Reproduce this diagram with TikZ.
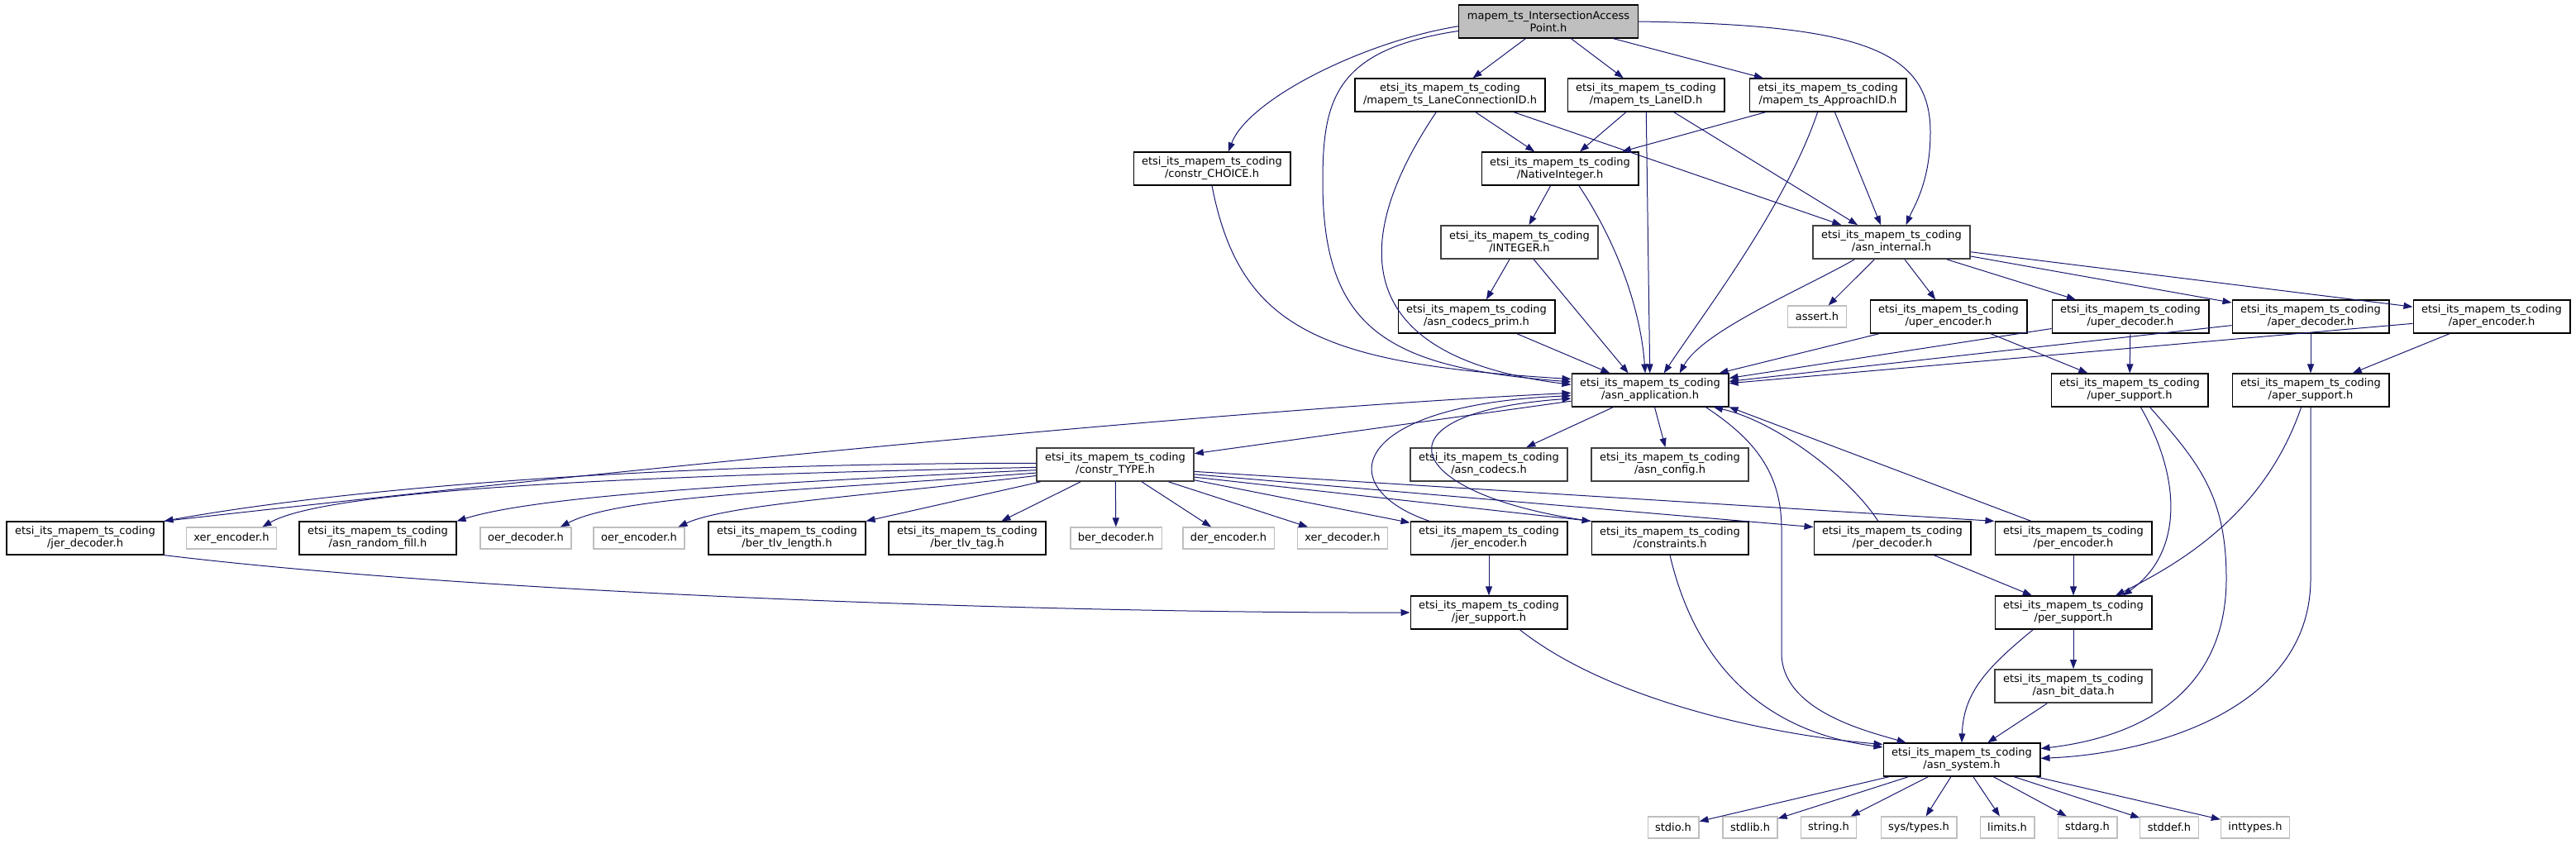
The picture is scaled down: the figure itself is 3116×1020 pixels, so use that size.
\documentclass[tikz,border=0pt]{standalone}
\usepackage{fontspec}
\setmainfont{DejaVu Sans}
\usetikzlibrary{arrows.meta}
\definecolor{edgeblue}{HTML}{191970}
\definecolor{rootfill}{HTML}{BFBFBF}
\definecolor{extgray}{HTML}{BFBFBF}
\definecolor{thickgray}{HTML}{404040}

\begin{document}
\begin{tikzpicture}[x=1pt,y=1pt,yscale=-1,
  filebox/.style={draw=black, line width=1.2pt, fill=white, align=center, inner xsep=10pt, inner ysep=1pt, minimum height=40pt, font=\fontsize{13}{15}\selectfont},
  rootbox/.style={filebox, fill=rootfill},
  leafbox/.style={filebox, draw=thickgray, line width=1.8pt},
  extbox/.style={draw=extgray, line width=1.2pt, fill=white, inner xsep=9pt, inner ysep=1pt, minimum height=26pt, font=\fontsize{13}{15}\selectfont},
  incl/.style={draw=edgeblue, line width=1pt, -{Triangle[length=11pt,width=8pt]}}]
\useasboundingbox (0,0) rectangle (3116,1020);

% Text Node
\node [rootbox] (iap) at (1873,26) {mapem\_ts\_IntersectionAccess\\Point.h};
% Text Node
\node [filebox] (lcid) at (1754,115) {etsi\_its\_mapem\_ts\_coding\\/mapem\_ts\_LaneConnectionID.h};
\node [filebox] (laneid) at (1991,115) {etsi\_its\_mapem\_ts\_coding\\/mapem\_ts\_LaneID.h};
\node [filebox] (apprid) at (2211,115) {etsi\_its\_mapem\_ts\_coding\\/mapem\_ts\_ApproachID.h};
% Text Node
\node [filebox] (choice) at (1466,204) {etsi\_its\_mapem\_ts\_coding\\/constr\_CHOICE.h};
\node [filebox] (natint) at (1887,204) {etsi\_its\_mapem\_ts\_coding\\/NativeInteger.h};
\node [leafbox] (integer) at (1838,293) {etsi\_its\_mapem\_ts\_coding\\/INTEGER.h};
\node [leafbox] (internal) at (2288,293) {etsi\_its\_mapem\_ts\_coding\\/asn\_internal.h};
% Text Node
\node [filebox] (prim) at (1786,383) {etsi\_its\_mapem\_ts\_coding\\/asn\_codecs\_prim.h};
\node [extbox] (assert) at (2198,383) {assert.h};
\node [filebox] (uperenc) at (2357,383) {etsi\_its\_mapem\_ts\_coding\\/uper\_encoder.h};
\node [filebox] (uperdec) at (2577,383) {etsi\_its\_mapem\_ts\_coding\\/uper\_decoder.h};
\node [filebox] (aperdec) at (2795,383) {etsi\_its\_mapem\_ts\_coding\\/aper\_decoder.h};
\node [filebox] (aperenc) at (3014,383) {etsi\_its\_mapem\_ts\_coding\\/aper\_encoder.h};
% Text Node
\node [filebox] (app) at (1996,472) {etsi\_its\_mapem\_ts\_coding\\/asn\_application.h};
\node [filebox] (upersup) at (2576,472) {etsi\_its\_mapem\_ts\_coding\\/uper\_support.h};
\node [filebox] (apersup) at (2795,472) {etsi\_its\_mapem\_ts\_coding\\/aper\_support.h};
% Text Node
\node [leafbox] (ctype) at (1349,562) {etsi\_its\_mapem\_ts\_coding\\/constr\_TYPE.h};
\node [leafbox] (codecs) at (1801,562) {etsi\_its\_mapem\_ts\_coding\\/asn\_codecs.h};
\node [leafbox] (config) at (2020,562) {etsi\_its\_mapem\_ts\_coding\\/asn\_config.h};
% Text Node
\node [filebox] (jerdec) at (103,651) {etsi\_its\_mapem\_ts\_coding\\/jer\_decoder.h};
\node [extbox] (xerenc) at (280,651) {xer\_encoder.h};
\node [filebox] (rfill) at (457,651) {etsi\_its\_mapem\_ts\_coding\\/asn\_random\_fill.h};
\node [extbox] (oerdec) at (636,651) {oer\_decoder.h};
\node [extbox] (oerenc) at (773,651) {oer\_encoder.h};
\node [filebox] (tlvlen) at (952,651) {etsi\_its\_mapem\_ts\_coding\\/ber\_tlv\_length.h};
\node [filebox] (tlvtag) at (1170,651) {etsi\_its\_mapem\_ts\_coding\\/ber\_tlv\_tag.h};
\node [extbox] (berdec) at (1350,651) {ber\_decoder.h};
\node [extbox] (derenc) at (1486,651) {der\_encoder.h};
\node [extbox] (xerdec) at (1624,651) {xer\_decoder.h};
\node [filebox] (jerenc) at (1801,651) {etsi\_its\_mapem\_ts\_coding\\/jer\_encoder.h};
\node [filebox] (constr) at (2020,651) {etsi\_its\_mapem\_ts\_coding\\/constraints.h};
\node [filebox] (perdec) at (2289,651) {etsi\_its\_mapem\_ts\_coding\\/per\_decoder.h};
\node [filebox] (perenc) at (2508,651) {etsi\_its\_mapem\_ts\_coding\\/per\_encoder.h};
% Text Node
\node [filebox] (jersup) at (1801,741) {etsi\_its\_mapem\_ts\_coding\\/jer\_support.h};
\node [filebox] (persup) at (2508,741) {etsi\_its\_mapem\_ts\_coding\\/per\_support.h};
\node [leafbox] (bitdata) at (2508,830) {etsi\_its\_mapem\_ts\_coding\\/asn\_bit\_data.h};
\node [filebox] (system) at (2373,919) {etsi\_its\_mapem\_ts\_coding\\/asn\_system.h};
% Text Node
\node [extbox] (hstdio) at (2024,1001) {stdio.h};
\node [extbox] (hstdlib) at (2117,1001) {stdlib.h};
\node [extbox] (hstring) at (2212,1001) {string.h};
\node [extbox] (hsystypes) at (2321,1001) {sys/types.h};
\node [extbox] (hlimits) at (2428,1001) {limits.h};
\node [extbox] (hstdarg) at (2525,1001) {stdarg.h};
\node [extbox] (hstddef) at (2624,1001) {stddef.h};
\node [extbox] (hinttypes) at (2728,1001) {inttypes.h};

%Straight Lines
\draw [incl] (iap.183) .. controls (1650,50) and (1510,120) .. (choice.46);
\draw [incl] (iap.186) .. controls (1615,60) and (1600,120) .. (1600,220) .. controls (1600,400) and (1680,445) .. (app.174);
\draw [incl] (iap) -- (lcid);
\draw [incl] (iap) -- (laneid);
\draw [incl] (iap) -- (apprid);
\draw [incl] (iap.east) .. controls (2250,30) and (2335,60) .. (2335,160) .. controls (2335,220) and (2315,250) .. (internal.50);
%Straight Lines
\draw [incl] (lcid) -- (natint);
\draw [incl] (lcid.345) -- (internal.161);
\draw [incl] (lcid.231) .. controls (1640,280) and (1620,430) .. (app.176);
\draw [incl] (laneid) -- (natint);
\draw [incl] (laneid) -- (internal.153);
\draw [incl] (laneid) -- (app);
\draw [incl] (apprid) -- (natint);
\draw [incl] (apprid) -- (internal.122);
\draw [incl] (apprid.239) .. controls (2160,250) and (2060,380) .. (app.51);
%Straight Lines
\draw [incl] (choice.south) .. controls (1500,400) and (1600,440) .. (app.172);
\draw [incl] (natint) -- (integer);
\draw [incl] (natint.318) .. controls (1960,300) and (1985,380) .. (app.106);
\draw [incl] (integer) -- (prim);
\draw [incl] (integer) -- (app.142);
\draw [incl] (prim) -- (app);
%Straight Lines
\draw [incl] (internal.205) .. controls (2180,350) and (2060,400) .. (app.30);
\draw [incl] (internal) -- (assert);
\draw [incl] (internal) -- (uperenc);
\draw [incl] (internal) -- (uperdec);
\draw [incl] (internal) -- (aperdec);
\draw [incl] (internal) -- (aperenc);
\draw [incl] (uperenc) -- (app);
\draw [incl] (uperenc) -- (upersup);
\draw [incl] (uperdec) -- (app);
\draw [incl] (uperdec) -- (upersup);
\draw [incl] (aperdec) -- (app);
\draw [incl] (aperdec) -- (apersup);
\draw [incl] (aperenc) -- (app);
\draw [incl] (aperenc) -- (apersup);
%Straight Lines
\draw [incl] (app) -- (ctype);
\draw [incl] (app) -- (codecs);
\draw [incl] (app) -- (config);
\draw [incl] (app.343) .. controls (2120,530) and (2155,570) .. (2155,640) -- (2155,790) .. controls (2155,860) and (2260,885) .. (system.163);
\draw [incl] (perdec.130) .. controls (2240,580) and (2150,510) .. (app.345);
\draw [incl] (perenc.158) -- (app.348);
%Straight Lines
\draw [incl] (ctype.179) .. controls (850,560) and (450,585) .. (jerdec.north east);
\draw [incl] (ctype.182) .. controls (800,575) and (400,590) .. (xerenc.20);
\draw [incl] (ctype.184) .. controls (900,585) and (650,600) .. (rfill.north east);
\draw [incl] (ctype.186) .. controls (950,595) and (750,600) .. (oerdec.18);
\draw [incl] (ctype.188) .. controls (1050,600) and (880,610) .. (oerenc.16);
\draw [incl] (ctype.193) -- (tlvlen.north east);
\draw [incl] (ctype) -- (tlvtag);
\draw [incl] (ctype) -- (berdec);
\draw [incl] (ctype) -- (derenc);
\draw [incl] (ctype) -- (xerdec);
\draw [incl] (ctype) -- (jerenc);
\draw [incl] (ctype.351) -- (constr.north west);
\draw [incl] (ctype.353) -- (perdec.172);
\draw [incl] (ctype.355) -- (perenc.north west);
%Straight Lines
\draw [incl] (jerdec.north east) .. controls (600,585) and (1400,500) .. (app.182);
\draw [incl] (jerdec.south east) .. controls (600,720) and (1300,742) .. (jersup.west);
\draw [incl] (jerenc.164) .. controls (1610,590) and (1630,490) .. (app.184);
\draw [incl] (constr.north west) .. controls (1700,600) and (1650,500) .. (app.186);
\draw [incl] (jerenc) -- (jersup);
\draw [incl] (constr.south) .. controls (2050,800) and (2130,885) .. (system.171);
\draw [incl] (jersup.331) .. controls (1950,850) and (2150,890) .. (system.169);
%Straight Lines
\draw [incl] (perdec) -- (persup);
\draw [incl] (perenc) -- (persup);
\draw [incl] (upersup.303) .. controls (2640,580) and (2640,670) .. (persup.19);
\draw [incl] (apersup.241) .. controls (2740,620) and (2640,680) .. (persup.22);
\draw [incl] (upersup.320) .. controls (2660,560) and (2693,600) .. (2693,700) .. controls (2693,830) and (2600,890) .. (system.8);
\draw [incl] (apersup.south) -- (2795,700) .. controls (2795,860) and (2600,912) .. (system.1);
\draw [incl] (persup) -- (bitdata);
\draw [incl] (persup.203) .. controls (2400,810) and (2375,840) .. (system.north);
\draw [incl] (bitdata) -- (system);
\foreach \h in {hstdio,hstdlib,hstring,hsystypes,hlimits,hstdarg,hstddef,hinttypes}
  \draw [incl] (system) -- (\h);

\end{tikzpicture}
\end{document}
